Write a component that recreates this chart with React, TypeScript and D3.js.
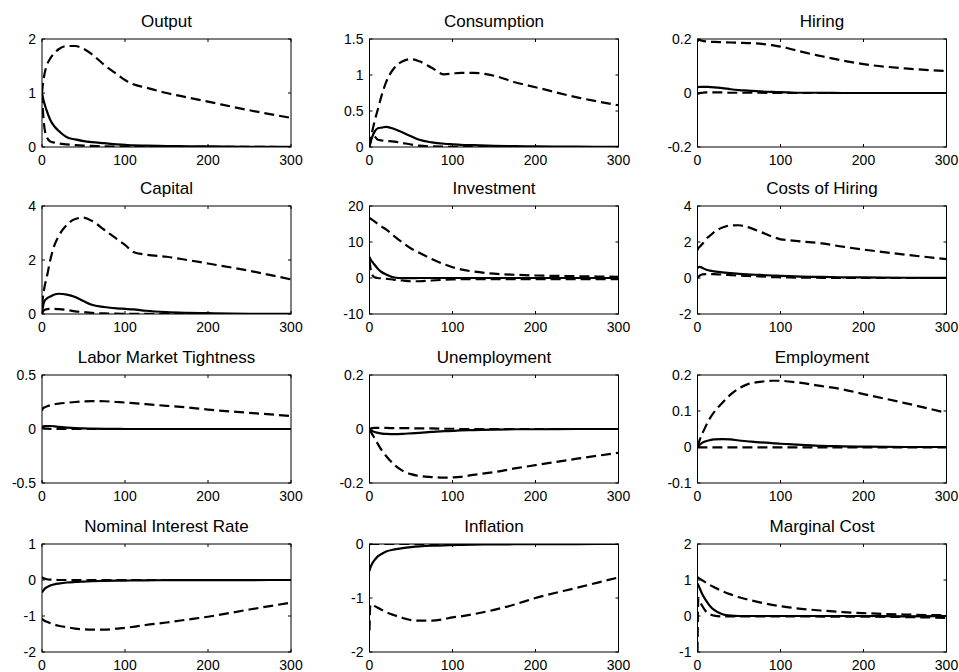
import React from "react";
import * as d3 from "d3";

const periods = [0, 1, 3, 6, 10, 15, 20, 30, 40, 50, 60, 75, 90, 100, 110, 125, 150, 175, 200, 250, 300];

const titles = [
  "Output", "Consumption", "Hiring",
  "Capital", "Investment", "Costs of Hiring",
  "Labor Market Tightness", "Unemployment", "Employment",
  "Nominal Interest Rate", "Inflation", "Marginal Cost",
];

const yDomains: [number, number][] = [
  [0, 2], [0, 1.5], [-0.2, 0.2],
  [0, 4], [-10, 20], [-2, 4],
  [-0.5, 0.5], [-0.2, 0.2], [-0.1, 0.2],
  [-2, 1], [-2, 0], [-1, 2],
];

const yTickValues = [
  [0, 1, 2], [0, 0.5, 1, 1.5], [-0.2, 0, 0.2],
  [0, 2, 4], [-10, 0, 10, 20], [-2, 0, 2, 4],
  [-0.5, 0, 0.5], [-0.2, 0, 0.2], [-0.1, 0, 0.1, 0.2],
  [-2, -1, 0, 1], [-2, -1, 0], [-1, 0, 1, 2],
];

const xTickValues = [0, 100, 200, 300];

// Output
const outputUpper = [1.0, 1.15, 1.35, 1.52, 1.64, 1.74, 1.81, 1.87, 1.87, 1.82, 1.72, 1.52, 1.35, 1.24, 1.16, 1.1, 1.0, 0.92, 0.84, 0.68, 0.54];
const outputMedian = [1.0, 0.92, 0.8, 0.66, 0.5, 0.38, 0.3, 0.18, 0.14, 0.11, 0.09, 0.07, 0.05, 0.04, 0.03, 0.025, 0.018, 0.013, 0.01, 0.005, 0.002];
const outputLower = [1.0, 0.7, 0.35, 0.18, 0.1, 0.08, 0.065, 0.05, 0.035, 0.025, 0.02, 0.012, 0.008, 0.006, 0.005, 0.004, 0.003, 0.002, 0.002, 0.001, 0];

// Consumption
const consUpper = [0, 0.08, 0.2, 0.35, 0.52, 0.73, 0.9, 1.1, 1.19, 1.22, 1.19, 1.1, 1.01, 1.02, 1.03, 1.03, 0.99, 0.9, 0.83, 0.69, 0.58];
const consMedian = [0, 0.05, 0.13, 0.21, 0.26, 0.27, 0.28, 0.25, 0.2, 0.15, 0.1, 0.065, 0.045, 0.037, 0.03, 0.025, 0.017, 0.012, 0.009, 0.004, 0.002];
const consLower = [0, 0.08, 0.16, 0.15, 0.1, 0.09, 0.085, 0.075, 0.055, 0.035, 0.018, 0.008, 0.004, 0.003, 0.002, 0.001, 0.001, 0, 0, 0, 0];

// Hiring
const hiringUpper = [0.19, 0.197, 0.196, 0.193, 0.191, 0.19, 0.189, 0.188, 0.187, 0.186, 0.185, 0.183, 0.177, 0.172, 0.165, 0.153, 0.136, 0.12, 0.107, 0.091, 0.081];
const hiringMedian = [0.02, 0.022, 0.023, 0.023, 0.023, 0.022, 0.021, 0.018, 0.014, 0.011, 0.009, 0.006, 0.004, 0.003, 0.002, 0.001, 0.001, 0, 0, 0, 0];
const hiringLower = [-0.003, -0.002, 0, 0.001, 0.002, 0.002, 0.002, 0.002, 0.001, 0.001, 0.001, 0.001, 0, 0, 0, 0, 0, 0, 0, 0, 0];

// Capital
const capitalUpper = [0.3, 0.6, 1.0, 1.4, 2.0, 2.55, 2.88, 3.3, 3.52, 3.57, 3.45, 3.12, 2.78, 2.56, 2.3, 2.2, 2.12, 2.0, 1.87, 1.6, 1.28];
const capitalMedian = [0, 0.25, 0.48, 0.58, 0.65, 0.72, 0.75, 0.72, 0.63, 0.48, 0.34, 0.26, 0.21, 0.19, 0.17, 0.12, 0.07, 0.045, 0.03, 0.01, 0.005];
const capitalLower = [0, 0.08, 0.15, 0.18, 0.19, 0.19, 0.18, 0.15, 0.1, 0.07, 0.04, 0.02, 0.012, 0.008, 0.005, 0.003, 0.002, 0.001, 0, 0, 0];

// Investment
const invUpper = [16.8, 16.5, 16.2, 15.7, 15.0, 14.2, 13.5, 11.6, 9.8, 8.2, 7.0, 5.3, 3.8, 3.0, 2.4, 1.8, 1.2, 0.9, 0.7, 0.5, 0.35];
const invMedian = [5.9, 5.3, 4.6, 3.7, 2.6, 1.6, 1.0, 0.15, -0.05, -0.05, 0, 0, 0, 0, 0, 0, 0, 0, 0, 0, 0];
const invLower = [5.0, 3.0, 1.0, 0.2, 0, -0.1, -0.2, -0.5, -0.7, -0.9, -0.9, -0.7, -0.5, -0.4, -0.35, -0.3, -0.3, -0.3, -0.3, -0.3, -0.3];

// Costs of Hiring
const costUpper = [1.55, 1.65, 1.75, 1.9, 2.15, 2.35, 2.55, 2.8, 2.92, 2.93, 2.83, 2.58, 2.3, 2.15, 2.1, 2.03, 1.92, 1.74, 1.58, 1.3, 1.05];
const costMedian = [0.55, 0.6, 0.62, 0.56, 0.47, 0.41, 0.37, 0.31, 0.27, 0.23, 0.2, 0.17, 0.14, 0.12, 0.1, 0.08, 0.06, 0.04, 0.03, 0.015, 0.01];
const costLower = [0, 0.06, 0.15, 0.2, 0.22, 0.22, 0.21, 0.19, 0.16, 0.13, 0.11, 0.09, 0.05, 0.04, 0.03, 0.02, 0.01, 0, 0, 0, 0];

// Labor Market Tightness
const lmtUpper = [0.17, 0.19, 0.2, 0.21, 0.22, 0.23, 0.235, 0.243, 0.25, 0.255, 0.258, 0.257, 0.25, 0.245, 0.24, 0.23, 0.215, 0.2, 0.18, 0.15, 0.12];
const lmtMedian = [0.02, 0.024, 0.027, 0.028, 0.028, 0.025, 0.02, 0.013, 0.008, 0.006, 0.004, 0.002, 0.001, 0, 0, 0, 0, 0, 0, 0, 0];
const lmtLower = [0.02, 0.012, 0.006, 0.003, 0.002, 0.002, 0.001, 0.001, 0, 0, 0, 0, 0, 0, 0, 0, 0, 0, 0, 0, 0];

// Unemployment
const unempUpper = [0, 0.002, 0.003, 0.004, 0.004, 0.004, 0.004, 0.003, 0.003, 0.003, 0.002, 0.002, 0.001, 0.001, 0, 0, 0, 0, 0, 0, 0];
const unempMedian = [0, -0.003, -0.007, -0.011, -0.014, -0.017, -0.018, -0.019, -0.018, -0.016, -0.014, -0.011, -0.008, -0.007, -0.005, -0.004, -0.002, -0.001, -0.001, 0, 0];
const unempLower = [0, -0.006, -0.018, -0.033, -0.055, -0.08, -0.1, -0.133, -0.155, -0.167, -0.174, -0.178, -0.18, -0.179, -0.177, -0.17, -0.16, -0.146, -0.134, -0.11, -0.088];

// Employment
const emplUpper = [0, 0.008, 0.022, 0.038, 0.058, 0.08, 0.097, 0.123, 0.146, 0.163, 0.174, 0.181, 0.184, 0.184, 0.182, 0.178, 0.169, 0.16, 0.147, 0.122, 0.095];
const emplMedian = [0, 0.003, 0.007, 0.012, 0.016, 0.019, 0.021, 0.022, 0.021, 0.018, 0.016, 0.013, 0.011, 0.009, 0.008, 0.006, 0.003, 0.002, 0.001, 0, 0];
const emplLower = [0, -0.001, -0.001, -0.001, -0.001, -0.001, -0.001, -0.001, -0.001, -0.001, -0.001, -0.001, -0.001, -0.001, -0.001, -0.001, -0.001, -0.001, -0.001, -0.001, -0.001];

// Nominal Interest Rate
const nirUpper = [0.08, 0.06, 0.04, 0.02, 0.01, 0.005, 0, 0, 0, 0, 0, 0, 0, 0, 0, 0, 0, 0, 0, 0, 0];
const nirMedian = [-0.35, -0.31, -0.25, -0.2, -0.15, -0.12, -0.1, -0.07, -0.055, -0.045, -0.035, -0.025, -0.018, -0.015, -0.012, -0.009, -0.005, -0.003, -0.002, -0.001, 0];
const nirLower = [-1.07, -1.1, -1.13, -1.16, -1.2, -1.24, -1.27, -1.31, -1.35, -1.37, -1.38, -1.38, -1.35, -1.33, -1.3, -1.25, -1.18, -1.1, -1.02, -0.82, -0.63];

// Inflation
const inflUpper = [-0.01, 0, 0, 0, 0, 0, 0, 0, 0, 0, 0, 0, 0, 0, 0, 0, 0, 0, 0, 0, 0];
const inflMedian = [-0.5, -0.44, -0.37, -0.3, -0.23, -0.18, -0.14, -0.1, -0.075, -0.058, -0.045, -0.032, -0.024, -0.02, -0.016, -0.012, -0.008, -0.005, -0.003, -0.001, 0];
const inflLower = [-1.6, -1.12, -1.13, -1.15, -1.18, -1.22, -1.26, -1.32, -1.37, -1.41, -1.42, -1.42, -1.39, -1.36, -1.34, -1.3, -1.22, -1.12, -1.0, -0.81, -0.62];

// Marginal Cost
const mcUpper = [1.08, 1.06, 1.03, 0.99, 0.93, 0.86, 0.8, 0.69, 0.6, 0.52, 0.46, 0.38, 0.31, 0.27, 0.24, 0.2, 0.15, 0.11, 0.08, 0.04, 0.02];
const mcMedian = [0.9, 0.86, 0.75, 0.6, 0.44, 0.28, 0.17, 0.05, 0.01, 0, 0, 0, 0, 0, 0, 0, 0, 0, 0, -0.01, 0];
const mcLower = [-1.0, 0.5, 0.4, 0.27, 0.13, 0.05, 0.01, -0.01, -0.01, -0.01, -0.01, -0.01, -0.01, -0.01, -0.01, -0.01, -0.015, -0.02, -0.02, -0.03, -0.05];

const panelSeries = [
  [outputUpper, outputMedian, outputLower],
  [consUpper, consMedian, consLower],
  [hiringUpper, hiringMedian, hiringLower],
  [capitalUpper, capitalMedian, capitalLower],
  [invUpper, invMedian, invLower],
  [costUpper, costMedian, costLower],
  [lmtUpper, lmtMedian, lmtLower],
  [unempUpper, unempMedian, unempLower],
  [emplUpper, emplMedian, emplLower],
  [nirUpper, nirMedian, nirLower],
  [inflUpper, inflMedian, inflLower],
  [mcUpper, mcMedian, mcLower],
];

const W = 959;
const H = 672;
const colLefts = [42, 369.5, 697.5];
const rowTops = [39, 206, 375, 544];
const PW = 249;
const PH = 108;
const TICK = 3;
const FONT = "'Liberation Sans', Arial, Helvetica, sans-serif";

function Panel({ idx }: { idx: number }) {
  const left = colLefts[idx % 3];
  const top = rowTops[Math.floor(idx / 3)];
  const x = d3.scaleLinear().domain([0, 300]).range([0, PW]);
  const y = d3.scaleLinear().domain(yDomains[idx]).range([PH, 0]);
  const line = d3
    .line<number>()
    .x((_, i) => x(periods[i]))
    .y((d) => y(d))
    .curve(d3.curveMonotoneX);
  const [upper, median, lower] = panelSeries[idx];
  const clipId = `clip-${idx}`;
  return (
    <g transform={`translate(${left},${top})`}>
      <defs>
        <clipPath id={clipId}>
          <rect x={0} y={0} width={PW} height={PH} />
        </clipPath>
      </defs>
      <text
        x={PW / 2}
        y={-11.8}
        textAnchor="middle"
        fontFamily={FONT}
        fontSize={17}
        fill="#000"
      >
        {titles[idx]}
      </text>
      <g clipPath={`url(#${clipId})`}>
        <path d={line(lower) ?? ""} fill="none" stroke="#000" strokeWidth={2.2} strokeDasharray="10,5" />
        <path d={line(upper) ?? ""} fill="none" stroke="#000" strokeWidth={2.2} strokeDasharray="10,5" />
        <path d={line(median) ?? ""} fill="none" stroke="#000" strokeWidth={2.2} />
      </g>
      <rect x={0} y={0} width={PW} height={PH} fill="none" stroke="#000" strokeWidth={1} />
      {xTickValues.map((t) => (
        <g key={`x${t}`}>
          <line x1={x(t)} x2={x(t)} y1={PH} y2={PH - TICK} stroke="#000" />
          <line x1={x(t)} x2={x(t)} y1={0} y2={TICK} stroke="#000" />
          <text
            x={x(t)}
            y={PH + 18}
            textAnchor="middle"
            fontFamily={FONT}
            fontSize={14}
            fill="#000"
          >
            {String(t)}
          </text>
        </g>
      ))}
      {yTickValues[idx].map((t) => (
        <g key={`y${t}`}>
          <line x1={0} x2={TICK} y1={y(t)} y2={y(t)} stroke="#000" />
          <line x1={PW} x2={PW - TICK} y1={y(t)} y2={y(t)} stroke="#000" />
          <text
            x={-6}
            y={y(t)}
            dy="0.35em"
            textAnchor="end"
            fontFamily={FONT}
            fontSize={14}
            fill="#000"
          >
            {String(t)}
          </text>
        </g>
      ))}
    </g>
  );
}

export default function App() {
  return (
    <svg
      width={W}
      height={H}
      viewBox={`0 0 ${W} ${H}`}
      style={{ position: "absolute", left: 0, top: 0, background: "#fff" }}
    >
      <rect x={0} y={0} width={W} height={H} fill="#fff" />
      {titles.map((_, i) => (
        <Panel key={i} idx={i} />
      ))}
    </svg>
  );
}
